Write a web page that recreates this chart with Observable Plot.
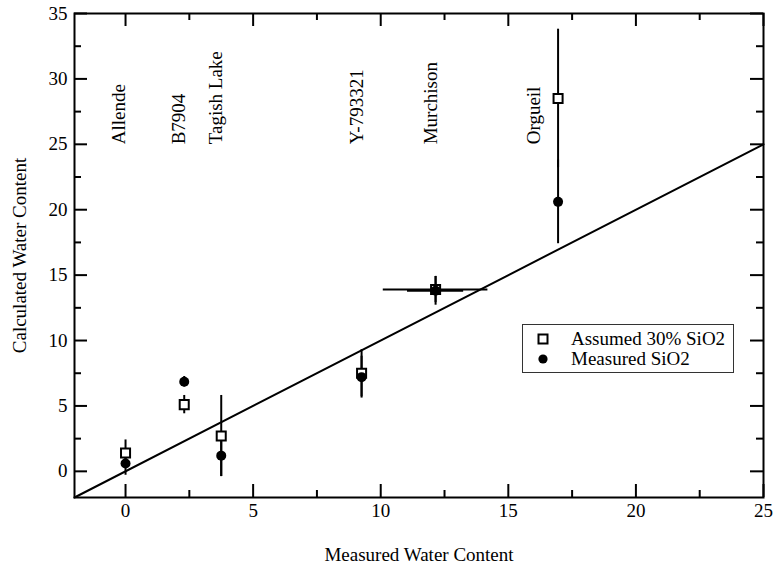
<!DOCTYPE html>
<html><head><meta charset="utf-8">
<script src="https://cdn.jsdelivr.net/npm/d3@7"></script>
<script src="https://cdn.jsdelivr.net/npm/@observablehq/plot@0.6"></script>
<style>
html,body{margin:0;padding:0;background:#fff;}
#wrap{position:relative;width:774px;height:568px;}
#legend{position:absolute;left:522px;top:324px;}
</style></head><body><div id="wrap"></div>
<script>
// ---- data ----
const names = ["Allende", "B7904", "Tagish Lake", "Y-793321", "Murchison", "Orgueil"];
const measuredWater = [0, 2.3, 3.75, 9.25, 12.15, 16.95];
const assumedCalc = [1.4, 5.1, 2.7, 7.5, 13.9, 28.5];
const assumedErr = [1.0, 0.7, 3.1, 1.8, 1.0, 5.3];
const assumedXErr = [0, 0, 0, 0, 2.05, 0];
const measuredCalc = [0.6, 6.85, 1.2, 7.2, 13.8, 20.6];
const measuredErr = [0.9, 0.4, 1.6, 1.6, 1.1, 3.2];
const measuredXErr = [0, 0, 0, 0, 1.1, 0];
const labelX = [-0.27, 2.08, 3.53, 9.06, 11.96, 16.0];
const labelY = [25, 25, 25, 25, 25, 25];
const lineX = [-2, 25];
const lineY = [-2, 25];
const xMajor = [0, 5, 10, 15, 20, 25];
const xMinor = [2.5, 7.5, 12.5, 17.5, 22.5];
const yMajor = [0, 5, 10, 15, 20, 25, 30, 35];
const yMinor = [2.5, 7.5, 12.5, 17.5, 22.5, 27.5, 32.5];
const legendLabels = ["Assumed 30% SiO2", "Measured SiO2"];

// ---- build tables ----
const idx = names.map((_, i) => i);
const sq = idx.map(i => ({x: measuredWater[i], y: assumedCalc[i], e: assumedErr[i], xe: assumedXErr[i]}));
const ci = idx.map(i => ({x: measuredWater[i], y: measuredCalc[i], e: measuredErr[i], xe: measuredXErr[i]}));
const labs = idx.map(i => ({x: labelX[i], y: labelY[i], t: names[i]}));
const diag = lineX.map((x, i) => ({x, y: lineY[i]}));

const W = 774, H = 568, mL = 74, mR = 11, mT = 13, mB = 71;
const FH = H - mT - mB, FW = W - mL - mR;
const MAJ = 13, MIN = 7;
const font = "'Liberation Serif', 'Times New Roman', Times, serif";

const chart = Plot.plot({
  width: W, height: H,
  marginLeft: mL, marginRight: mR, marginTop: mT, marginBottom: mB,
  x: {domain: [-2, 25]},
  y: {domain: [-2, 35]},
  style: {fontFamily: font, fontSize: "19px", background: "white", color: "black", overflow: "visible"},
  marks: [
    Plot.tickX(xMajor, {x: d => d, insetTop: FH - MAJ, strokeWidth: 2}),
    Plot.tickX(xMajor, {x: d => d, insetBottom: FH - MAJ, strokeWidth: 2}),
    Plot.tickX(xMinor, {x: d => d, insetTop: FH - MIN, strokeWidth: 2}),
    Plot.tickX(xMinor, {x: d => d, insetBottom: FH - MIN, strokeWidth: 2}),
    Plot.tickY(yMajor, {y: d => d, insetRight: FW - MAJ, strokeWidth: 2}),
    Plot.tickY(yMajor, {y: d => d, insetLeft: FW - MAJ, strokeWidth: 2}),
    Plot.tickY(yMinor, {y: d => d, insetRight: FW - MIN, strokeWidth: 2}),
    Plot.tickY(yMinor, {y: d => d, insetLeft: FW - MIN, strokeWidth: 2}),
    Plot.axisX(xMajor, {tickSize: 0, tickPadding: 6, fontSize: 19, fontFamily: font, fontVariant: "normal",
      label: "Measured Water Content", labelAnchor: "center", labelOffset: 63, labelArrow: "none"}),
    Plot.axisY(yMajor, {tickSize: 0, tickPadding: 7, fontSize: 19, fontFamily: font, fontVariant: "normal",
      label: "Calculated Water Content", labelAnchor: "center", labelOffset: 62, labelArrow: "none"}),
    Plot.line(diag, {x: "x", y: "y", stroke: "black", strokeWidth: 2}),
    Plot.ruleX(sq, {x: "x", y1: d => d.y - d.e, y2: d => d.y + d.e, stroke: "black", strokeWidth: 2}),
    Plot.ruleX(ci, {x: "x", y1: d => d.y - d.e, y2: d => d.y + d.e, stroke: "black", strokeWidth: 2}),
    Plot.ruleY(sq.filter(d => d.xe > 0), {y: "y", x1: d => d.x - d.xe, x2: d => d.x + d.xe, stroke: "black", strokeWidth: 2}),
    Plot.ruleY(ci.filter(d => d.xe > 0), {y: "y", x1: d => d.x - d.xe, x2: d => d.x + d.xe, stroke: "black", strokeWidth: 2}),
    Plot.dot(sq, {x: "x", y: "y", symbol: "square", r: 5.1, fill: "white", stroke: "black", strokeWidth: 2}),
    Plot.dot(ci, {x: "x", y: "y", symbol: "circle", r: 5, fill: "black", stroke: "none"}),
    Plot.text(labs, {x: "x", y: "y", text: "t", rotate: -90, textAnchor: "start", lineAnchor: "middle", fontSize: 19, fontFamily: font, fill: "black"}),
    Plot.frame({stroke: "black", strokeWidth: 2})
  ]
});
const wrap = document.getElementById("wrap");
wrap.appendChild(chart);

// ---- legend ----
const lg = d3.select(wrap).append("svg").attr("id", "legend")
  .attr("width", 213).attr("height", 50)
  .style("font-family", font).style("font-size", "19px");
lg.append("rect").attr("x", 0.5).attr("y", 0.5).attr("width", 211).attr("height", 48)
  .attr("fill", "white").attr("stroke", "#333").attr("stroke-width", 1);
const sqSide = 9;
lg.append("rect").attr("x", 21 - sqSide / 2).attr("y", 15 - sqSide / 2)
  .attr("width", sqSide).attr("height", sqSide)
  .attr("fill", "white").attr("stroke", "black").attr("stroke-width", 2);
lg.append("circle").attr("cx", 21).attr("cy", 35).attr("r", 4.6).attr("fill", "black");
lg.selectAll("text.l").data(legendLabels).join("text").attr("class", "l")
  .attr("x", 49).attr("y", (d, i) => 21 + i * 20).text(d => d);
</script></body></html>
